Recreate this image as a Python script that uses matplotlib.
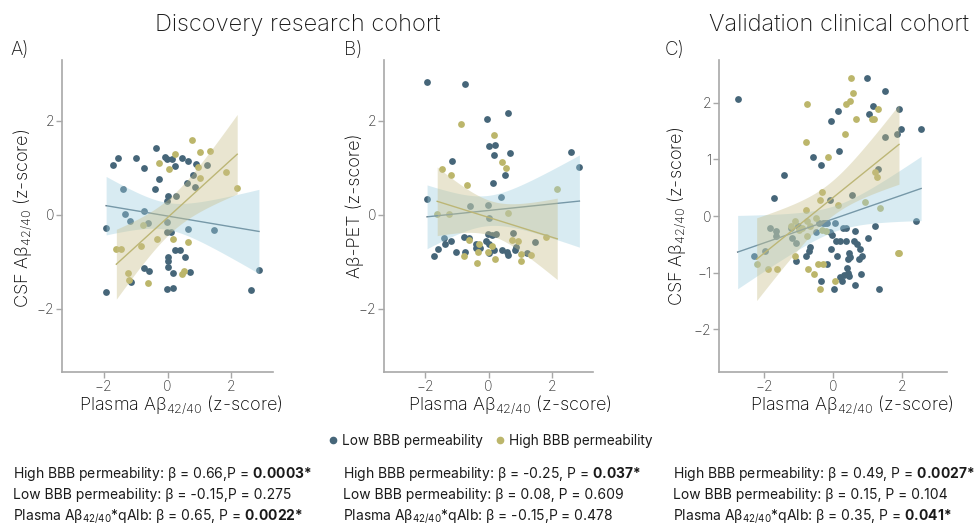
import numpy as np
import matplotlib
matplotlib.use("Agg")
import matplotlib.pyplot as plt
from matplotlib.lines import Line2D

# ---- data ----
# Panel A: discovery cohort, CSF Ab42/40 vs plasma Ab42/40
a_low_x = [-1.92, -1.92, -1.69, -1.56, -1.40, -1.33, -1.16, -1.13, -0.99, -0.74,
           -0.75, -0.72, -0.57, -0.61, -0.40, -0.36, -0.27, -0.09, -0.03, 0.03,
           -0.01, -0.02, -0.03, 0.03, 0.01, 0.00, -0.02, 0.14, 0.24, 0.17,
           0.16, 0.11, 0.26, 0.22, 0.40, 0.44, 0.55, 0.63, 0.64, 0.69,
           0.79, 0.86, 0.60, 0.90, 1.23, 1.47, 2.60, 2.86]
a_low_y = [-0.28, -1.65, 1.06, 1.21, 0.54, 0.01, -0.14, -1.44, 1.21, 1.00,
           0.08, -1.14, -1.20, -0.18, 0.54, 1.43, 0.77, 1.23, 1.20, 0.40,
           0.29, -0.15, -0.36, -0.89, -0.98, -1.11, -1.58, 1.20, 1.04, -1.56,
           -1.23, -0.36, 0.40, -0.74, -0.74, 1.21, -0.89, 1.14, -0.31, -1.21,
           0.84, 0.59, 0.67, 1.08, 1.07, -0.33, -1.60, -1.17]
a_high_x = [-1.60, -1.45, -1.24, -1.19, -0.84, -0.77, -0.60, -0.33, -0.27, 0.06,
            0.22, 0.18, 0.45, 0.53, 0.64, 0.77, 0.95, 1.02, 1.03, 1.34,
            1.82, 2.18]
a_high_y = [-0.72, -0.73, -1.25, -1.38, -0.66, -0.21, -1.46, -0.52, 1.11, 0.97,
            1.29, -0.51, -1.26, -1.19, -0.57, 1.59, 1.02, 0.79, 1.33, 1.36,
            0.91, 0.57]

# Panel B: discovery cohort, Ab-PET vs plasma Ab42/40
b_low_x = [-1.94, -1.94, -1.71, -1.59, -1.41, -1.36, -1.18, -1.14, -1.02, -0.76,
           -0.75, -0.73, -0.63, -0.59, -0.41, -0.38, -0.28, -0.09, -0.04, -0.03,
           -0.01, 0.00, 0.01, 0.00, 0.03, 0.10, 0.14, 0.16, 0.22, 0.24,
           0.18, 0.38, 0.43, 0.53, 0.58, 0.62, 0.62, 0.67, 0.77, 0.84,
           0.87, 1.21, 1.47, 2.61, 2.87]
b_low_y = [2.83, 0.33, -0.88, -0.73, -0.50, -0.63, -0.55, 1.14, -0.79, -0.48,
           -0.79, 2.79, -0.49, 0.18, -0.62, -0.70, -0.70, -0.55, 2.05, 0.20,
           -0.40, -0.06, -0.63, -0.81, 1.47, -0.42, 0.67, 1.28, 1.49, -0.40,
           -0.74, 0.38, -0.75, 0.85, -0.79, 2.16, -0.86, 1.32, -0.39, -0.74,
           -0.69, -0.82, -0.58, 1.33, 1.03]
b_high_x = [-1.62, -1.47, -1.25, -1.19, -0.86, -0.77, -0.69, -0.63, -0.35, -0.32,
            -0.29, -0.01, 0.10, 0.17, 0.21, 0.44, 0.55, 0.63, 0.75, 0.94,
            1.02, 1.03, 1.33, 1.81, 2.17]
b_high_y = [0.01, 0.98, 0.01, 0.84, 1.93, -0.88, 0.63, -0.54, -1.02, -0.79,
            -0.63, -0.79, -0.67, 1.70, -0.95, 1.12, 1.00, 0.04, -0.54, -0.55,
            -0.98, -0.83, -0.86, -0.48, 0.54]

# Panel C: validation cohort, CSF Ab42/40 vs plasma Ab42/40
c_low_x = [-2.76, -2.30, -1.96, -1.82, -1.71, -1.66, -1.64, -1.42, -1.19, -1.23,
           -1.06, -1.08, -1.00, -0.77, -0.70, -0.67, -0.57, -0.50, -0.41, -0.35,
           -0.36, -0.30, -0.22, -0.17, -0.16, -0.09, -0.08, -0.06, -0.05, -0.02,
           0.04, 0.07, 0.10, 0.11, 0.14, 0.16, 0.19, 0.21, 0.27, 0.30,
           0.31, 0.37, 0.39, 0.40, 0.43, 0.43, 0.46, 0.47, 0.48, 0.54,
           0.62, 0.65, 0.65, 0.70, 0.75, 0.79, 0.80, 0.85, 0.97, 1.00,
           1.05, 1.16, 1.21, 1.29, 1.33, 1.51, 1.51, 1.85, 1.92, 1.97,
           2.41, 2.55]
c_low_y = [2.07, -0.71, -0.61, -0.22, 0.32, -0.26, -0.35, 0.72, -0.39, -0.21,
           -0.48, -0.79, -0.17, -0.71, -0.62, -0.54, 1.04, -0.29, -0.13, 0.90,
           -1.15, -0.13, -0.13, -0.84, -0.13, 0.28, -0.29, -0.58, 1.68, -0.34,
           -1.29, -0.13, -0.44, -0.71, 1.85, 1.14, -0.44, -1.08, -1.15, -0.22,
           -1.04, -0.44, -0.22, -0.92, -0.75, -1.01, -0.66, -1.06, -0.73, 0.37,
           -0.44, -0.26, -1.21, -0.49, -0.75, -0.58, -1.02, -0.70, 2.43, -0.39,
           1.80, 1.94, -0.17, 0.83, -1.29, 2.21, 1.40, 1.45, 1.89, 1.54,
           -0.08, 1.54]
c_high_x = [-2.21, -1.89, -1.61, -1.23, -1.09, -1.09, -0.97, -0.89, -0.78, -0.78,
            -0.75, -0.74, -0.74, -0.72, -0.66, -0.54, -0.50, -0.44, -0.39, -0.37,
            -0.33, -0.32, -0.28, -0.20, -0.14, 0.06, 0.14, 0.34, 0.38, 0.50,
            0.53, 0.58, 0.68, 0.94, 1.12, 1.18, 1.23, 1.28, 1.29, 1.37,
            1.87, 1.91]
c_high_y = [-0.84, -0.94, -0.94, -0.18, -0.08, -0.71, -0.25, -0.22, 1.31, 0.10,
            -0.35, 1.98, -0.08, -0.94, -0.17, -1.02, -0.04, -0.84, -1.29, 0.28,
            0.42, -0.25, -0.84, -0.26, 1.04, -1.15, 0.19, 1.45, 1.98, 2.03,
            2.43, 2.16, 1.71, 0.24, 1.71, 1.71, 0.78, 0.68, 1.89, 0.14,
            -0.66, -0.66]

panel_letters = ["A)", "B)", "C)"]
y_labels = [r"CSF Aβ$_{\mathregular{42/40}}$ (z-score)",
            "Aβ-PET (z-score)",
            r"CSF Aβ$_{\mathregular{42/40}}$ (z-score)"]
x_label = r"Plasma Aβ$_{\mathregular{42/40}}$ (z-score)"
y_ticks = [[-2, 0, 2], [-2, 0, 2], [-2, -1, 0, 1, 2]]
x_ticks = [-2, 0, 2]
cohort_titles = ["Discovery research cohort", "Validation clinical cohort"]
group_names = ["Low BBB permeability", "High BBB permeability"]

stats = [
    ["High BBB permeability: β = 0.66,P = $\\mathbf{0.0003{*}}$",
     "Low BBB permeability: β = -0.15,P = 0.275",
     "Plasma Aβ$_{\\mathregular{42/40}}$*qAlb: β = 0.65, P = $\\mathbf{0.0022{*}}$"],
    ["High BBB permeability: β = -0.25, P = $\\mathbf{0.037{*}}$",
     "Low BBB permeability: β = 0.08, P = 0.609",
     "Plasma Aβ$_{\\mathregular{42/40}}$*qAlb: β = -0.15,P = 0.478"],
    ["High BBB permeability: β = 0.49, P = $\\mathbf{0.0027{*}}$",
     "Low BBB permeability: β = 0.15, P = 0.104",
     "Plasma Aβ$_{\\mathregular{42/40}}$*qAlb: β = 0.35, P = $\\mathbf{0.041{*}}$"],
]

panels = [
    (a_low_x, a_low_y, a_high_x, a_high_y),
    (b_low_x, b_low_y, b_high_x, b_high_y),
    (c_low_x, c_low_y, c_high_x, c_high_y),
]

# ---- style ----
FONT = "Inter"
plt.rcParams["font.family"] = [FONT, "DejaVu Sans"]
plt.rcParams["mathtext.fontset"] = "custom"
plt.rcParams["mathtext.rm"] = FONT
plt.rcParams["mathtext.bf"] = FONT + ":bold"
plt.rcParams["text.color"] = "#1a1a1a"

LOW_DOT = "#466679"
HIGH_DOT = "#bcb66b"
LOW_LINE = "#5d7483"
HIGH_LINE = "#b5b06a"
LOW_BAND = "#9ecfe0"
HIGH_BAND = "#c9c08a"
SPINE = "#a8a8a8"


def t975(df):
    # Cornish-Fisher approximation of the 97.5% t quantile
    z = 1.959964
    return (z + (z**3 + z) / (4 * df)
            + (5 * z**5 + 16 * z**3 + 3 * z) / (96 * df**2))


def fit_band(x, y, grid):
    x = np.asarray(x, float)
    y = np.asarray(y, float)
    n = len(x)
    slope, icpt = np.polyfit(x, y, 1)
    resid = y - (icpt + slope * x)
    s = np.sqrt(resid @ resid / (n - 2))
    sxx = ((x - x.mean()) ** 2).sum()
    yhat = icpt + slope * grid
    se = s * np.sqrt(1.0 / n + (grid - x.mean()) ** 2 / sxx)
    t = t975(n - 2)
    return yhat, yhat - t * se, yhat + t * se


fig = plt.figure(figsize=(9.77, 5.29), dpi=100)
W, H = 977.0, 529.0
# axes boxes in pixels: left, right, top, bottom
boxes = [(62, 273, 60, 372), (384, 593, 60, 372), (719, 947, 60, 372)]
ylims = [(-3.35, 3.3), (-3.35, 3.3), (-2.75, 2.75)]
ylab_pos = [(-0.185, 0.492), (-0.139, 0.532), (-0.187, 0.497)]
xlab_pos = [0.564, 0.603, 0.584]
letter_x = [10, 344, 665]
stats_x = [13, 343, 673]

for i, (lx, ly, hx, hy) in enumerate(panels):
    l, r, t, b = boxes[i]
    ax = fig.add_axes([l / W, 1 - b / H, (r - l) / W, (b - t) / H])

    for xs, ys, dot, line, band in [(lx, ly, LOW_DOT, LOW_LINE, LOW_BAND),
                                    (hx, hy, HIGH_DOT, HIGH_LINE, HIGH_BAND)]:
        ax.scatter(xs, ys, s=24, color=dot, linewidths=0, zorder=2)
        grid = np.linspace(min(xs), max(xs), 100)
        yhat, lo, hi = fit_band(xs, ys, grid)
        ax.plot(grid, yhat, color=line, lw=1.0, zorder=3)
        ax.fill_between(grid, lo, hi, color=band, alpha=0.4, lw=0, zorder=3)

    ax.set_xlim(-3.3, 3.3)
    ax.set_ylim(*ylims[i])
    ax.set_xticks(x_ticks)
    ax.set_yticks(y_ticks[i])
    for side in ["top", "right"]:
        ax.spines[side].set_visible(False)
    for side in ["left", "bottom"]:
        ax.spines[side].set_color(SPINE)
        ax.spines[side].set_linewidth(1.2)
    ax.tick_params(colors=SPINE, labelcolor="#333333", labelsize=10,
                   length=4, width=1.0, pad=1.5)
    for lab in ax.get_xticklabels() + ax.get_yticklabels():
        lab.set_fontweight("light")

    ax.set_ylabel(y_labels[i], fontsize=13, fontweight="light", va="center")
    ax.yaxis.set_label_coords(*ylab_pos[i])
    ax.set_xlabel(x_label, fontsize=13, fontweight="light", va="baseline")
    ax.xaxis.set_label_coords(xlab_pos[i], -0.122)

    fig.text(letter_x[i] / W, 1 - 50 / H, panel_letters[i], fontsize=13.5,
             fontweight="light", ha="left", va="center")

    for k, line_txt in enumerate(stats[i]):
        fig.text(stats_x[i] / W, 1 - (474 + 21 * k) / H, line_txt,
                 fontsize=10, ha="left", va="center")

fig.text(298 / W, 1 - 25 / H, cohort_titles[0], fontsize=17,
         fontweight="light", ha="center", va="center")
fig.text(839 / W, 1 - 25 / H, cohort_titles[1], fontsize=17,
         fontweight="light", ha="center", va="center")

handles = [Line2D([], [], marker="o", ls="", color=LOW_DOT, markersize=4.5),
           Line2D([], [], marker="o", ls="", color=HIGH_DOT, markersize=4.5)]
fig.legend(handles, group_names, loc="center",
           bbox_to_anchor=(490 / W, 1 - 441 / H), ncol=2, frameon=False,
           fontsize=9.8, handletextpad=0.3, columnspacing=0.8,
           handlelength=0.8)

fig.savefig("out.png", dpi=100)
